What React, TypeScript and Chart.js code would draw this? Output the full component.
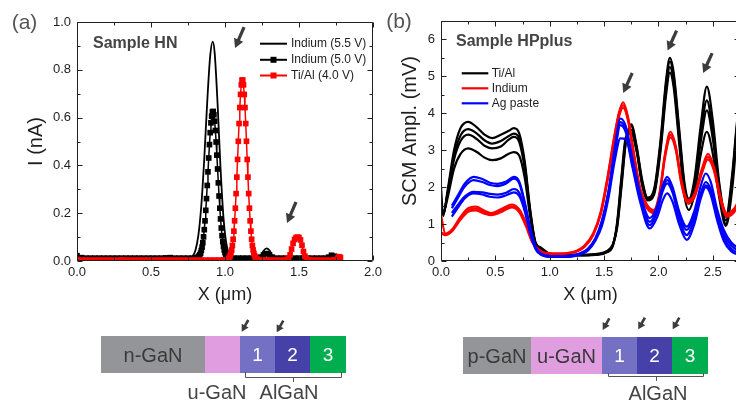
import React, { useEffect, useRef } from 'react';
import { Chart, registerables } from 'chart.js';

Chart.register(...registerables);

const FONT = '"Liberation Sans", Arial, Helvetica, sans-serif';
const INK = '#1e1e1e';
const NOTE = '#444444';
const ARROW = '#3c3c3c';

// ================= Panel (a): Sample HN =================
const hnTag = '(a)';
const hnTitle = 'Sample HN';
const hnXTitle = 'X (μm)';
const hnYTitle = 'I (nA)';
const hnSeriesLabels = ['Indium (5.5 V)', 'Indium (5.0 V)', 'Ti/Al (4.0 V)'];
const hnSeriesColors = ['#000000', '#000000', '#ff0000'];
const hnXTicks = [0, 0.5, 1.0, 1.5, 2.0];
const hnYTicks = [0, 0.2, 0.4, 0.6, 0.8, 1.0];

const hnIndium55 = [
  [0, 0.03], [0.01, 0.022], [0.03, 0.014], [0.06, 0.011], [0.15, 0.01], [0.3, 0.01], [0.45, 0.01],
  [0.55, 0.01], [0.6, 0.012], [0.63, 0.015], [0.66, 0.011], [0.72, 0.01], [0.75, 0.011], [0.78, 0.019],
  [0.8, 0.044], [0.82, 0.107], [0.84, 0.232], [0.86, 0.43], [0.88, 0.667], [0.9, 0.858], [0.917, 0.918],
  [0.93, 0.872], [0.95, 0.656], [0.97, 0.386], [0.99, 0.18], [1.01, 0.069], [1.03, 0.025], [1.05, 0.012],
  [1.08, 0.009], [1.15, 0.009], [1.22, 0.01], [1.24, 0.02], [1.26, 0.042], [1.28, 0.053], [1.3, 0.045],
  [1.32, 0.022], [1.34, 0.011], [1.4, 0.009], [1.55, 0.009], [1.68, 0.01], [1.7, 0.016], [1.72, 0.02],
  [1.74, 0.014], [1.75, 0.01],
];

const hnIndium50 = [
  [0, 0.022], [0.03, 0.014], [0.06, 0.012], [0.09, 0.012], [0.12, 0.012], [0.15, 0.012], [0.18, 0.012],
  [0.21, 0.012], [0.24, 0.012], [0.27, 0.012], [0.3, 0.012], [0.33, 0.012], [0.36, 0.012], [0.39, 0.012],
  [0.42, 0.012], [0.45, 0.012], [0.48, 0.012], [0.51, 0.012], [0.54, 0.012], [0.57, 0.012], [0.6, 0.013],
  [0.63, 0.014], [0.66, 0.012], [0.69, 0.012], [0.72, 0.012], [0.75, 0.012], [0.78, 0.012], [0.8, 0.013],
  [0.81, 0.014], [0.82, 0.018], [0.825, 0.021], [0.83, 0.026], [0.835, 0.033], [0.84, 0.044], [0.845, 0.058],
  [0.85, 0.076], [0.855, 0.101], [0.86, 0.131], [0.865, 0.168], [0.87, 0.212], [0.875, 0.261], [0.88, 0.316],
  [0.885, 0.373], [0.89, 0.431], [0.895, 0.487], [0.9, 0.537], [0.905, 0.578], [0.91, 0.606], [0.915, 0.624],
  [0.92, 0.626], [0.925, 0.612], [0.93, 0.585], [0.935, 0.546], [0.94, 0.498], [0.945, 0.443], [0.95, 0.385],
  [0.955, 0.327], [0.96, 0.272], [0.965, 0.221], [0.97, 0.176], [0.975, 0.138], [0.98, 0.106], [0.985, 0.081],
  [0.99, 0.061], [0.995, 0.046], [1.0, 0.035], [1.005, 0.027], [1.01, 0.022], [1.015, 0.018], [1.02, 0.016],
  [1.03, 0.013], [1.06, 0.012], [1.09, 0.012], [1.12, 0.012], [1.15, 0.012], [1.18, 0.012], [1.21, 0.012],
  [1.24, 0.016], [1.26, 0.025], [1.28, 0.031], [1.3, 0.026], [1.32, 0.016], [1.35, 0.012], [1.38, 0.012],
  [1.41, 0.012], [1.44, 0.012], [1.47, 0.012], [1.5, 0.012], [1.53, 0.012], [1.56, 0.012], [1.59, 0.012],
  [1.62, 0.012], [1.65, 0.012], [1.68, 0.012], [1.7, 0.016], [1.72, 0.024], [1.74, 0.02], [1.75, 0.014],
];

const hnTiAl40 = [
  [0, 0.006], [0.03, 0.004], [0.06, 0.004], [0.09, 0.004], [0.12, 0.004], [0.15, 0.004], [0.18, 0.004],
  [0.21, 0.004], [0.24, 0.004], [0.27, 0.004], [0.3, 0.005], [0.33, 0.004], [0.36, 0.004], [0.39, 0.004],
  [0.42, 0.004], [0.45, 0.004], [0.48, 0.004], [0.51, 0.004], [0.54, 0.004], [0.57, 0.004], [0.6, 0.004],
  [0.63, 0.004], [0.66, 0.004], [0.69, 0.004], [0.72, 0.004], [0.75, 0.004], [0.78, 0.004], [0.81, 0.004],
  [0.84, 0.004], [0.87, 0.004], [0.9, 0.004], [0.93, 0.004], [0.96, 0.004], [0.99, 0.005], [1.02, 0.008],
  [1.025, 0.011], [1.03, 0.016], [1.035, 0.022], [1.04, 0.032], [1.045, 0.046], [1.05, 0.065], [1.055, 0.091],
  [1.06, 0.125], [1.065, 0.168], [1.07, 0.221], [1.075, 0.282], [1.08, 0.351], [1.085, 0.425], [1.09, 0.501],
  [1.095, 0.575], [1.1, 0.642], [1.105, 0.697], [1.11, 0.737], [1.115, 0.757], [1.12, 0.757], [1.125, 0.737],
  [1.13, 0.697], [1.135, 0.642], [1.14, 0.575], [1.145, 0.501], [1.15, 0.425], [1.155, 0.351], [1.16, 0.282],
  [1.165, 0.221], [1.17, 0.168], [1.175, 0.125], [1.18, 0.091], [1.185, 0.065], [1.19, 0.046], [1.195, 0.032],
  [1.2, 0.022], [1.205, 0.016], [1.21, 0.011], [1.215, 0.008], [1.22, 0.006], [1.25, 0.004], [1.28, 0.004],
  [1.31, 0.004], [1.34, 0.004], [1.37, 0.004], [1.4, 0.004], [1.42, 0.006], [1.43, 0.012], [1.44, 0.026],
  [1.45, 0.05], [1.46, 0.074], [1.47, 0.09], [1.48, 0.098], [1.49, 0.1], [1.5, 0.098], [1.51, 0.088],
  [1.52, 0.066], [1.53, 0.04], [1.54, 0.02], [1.55, 0.009], [1.56, 0.005], [1.59, 0.004], [1.62, 0.004],
  [1.65, 0.004], [1.68, 0.004], [1.71, 0.004], [1.74, 0.005], [1.76, 0.012], [1.77, 0.018], [1.78, 0.015],
];

const hnArrowTips = [[1.068, 0.891], [1.419, 0.159]];

// ================= Panel (b): Sample HPplus =================
const hpTag = '(b)';
const hpTitle = 'Sample HPplus';
const hpXTitle = 'X (μm)';
const hpYTitle = 'SCM Ampl. (mV)';
const hpGroupLabels = ['Ti/Al', 'Indium', 'Ag paste'];
const hpGroupColors = ['#000000', '#ff0000', '#0000ff'];
const hpXTicks = [0, 0.5, 1.0, 1.5, 2.0, 2.5];
const hpXMax = 2.75;
const hpYTicks = [0, 1, 2, 3, 4, 5, 6];
const hpYMax = 6.5;

const hpTiAlX = [0, 0.02, 0.06, 0.12, 0.18, 0.25, 0.33, 0.4, 0.47, 0.55, 0.62, 0.67, 0.72, 0.77, 0.82, 0.87, 0.92, 1.0, 1.15, 1.3, 1.45, 1.52, 1.58, 1.62, 1.66, 1.7, 1.75, 1.8, 1.85, 1.9, 1.96, 2.02, 2.07, 2.105, 2.14, 2.19, 2.24, 2.28, 2.33, 2.39, 2.445, 2.5, 2.56, 2.62, 2.68, 2.72, 2.76];
const hpTiAl1 = [2.0, 1.22, 1.9, 3.0, 3.6, 3.77, 3.62, 3.42, 3.33, 3.42, 3.52, 3.6, 3.45, 2.7, 1.4, 0.5, 0.36, 0.2, 0.17, 0.17, 0.2, 0.26, 0.45, 0.9, 2.0, 3.2, 3.7, 3.1, 2.2, 1.72, 1.95, 3.3, 4.9, 5.5, 5.1, 3.6, 2.1, 1.68, 2.2, 3.7, 4.72, 3.8, 2.1, 1.2, 2.4, 3.7, 4.6];
const hpTiAl2 = [1.6, 1.25, 1.85, 2.85, 3.4, 3.57, 3.45, 3.27, 3.18, 3.25, 3.38, 3.45, 3.32, 2.6, 1.35, 0.48, 0.34, 0.19, 0.16, 0.16, 0.19, 0.25, 0.43, 0.95, 2.1, 3.25, 3.65, 3.05, 2.15, 1.7, 1.9, 3.2, 4.8, 5.4, 5.0, 3.5, 2.0, 1.62, 2.1, 3.45, 4.35, 3.5, 2.0, 1.1, 2.3, 3.6, 4.5];
const hpTiAl3 = [1.4, 1.28, 1.8, 2.75, 3.25, 3.42, 3.3, 3.12, 3.05, 3.1, 3.28, 3.36, 3.22, 2.5, 1.3, 0.46, 0.33, 0.18, 0.16, 0.16, 0.18, 0.24, 0.42, 1.0, 2.2, 3.3, 3.55, 3.0, 2.1, 1.68, 1.85, 3.1, 4.65, 5.25, 4.85, 3.35, 1.9, 1.55, 2.0, 3.25, 4.08, 3.3, 1.9, 1.0, 2.2, 3.5, 4.4];
const hpTiAl4 = [1.3, 1.3, 1.7, 2.5, 2.9, 3.05, 2.95, 2.8, 2.73, 2.78, 2.9, 2.95, 2.85, 2.25, 1.2, 0.44, 0.32, 0.17, 0.15, 0.15, 0.17, 0.23, 0.4, 1.05, 2.3, 3.35, 3.45, 2.95, 2.05, 1.64, 1.8, 3.0, 4.5, 5.1, 4.7, 3.2, 1.75, 1.38, 1.8, 2.9, 3.5, 2.9, 1.7, 0.95, 2.0, 3.3, 4.2];

const hpIndiumX = [0, 0.04, 0.1, 0.18, 0.25, 0.32, 0.4, 0.46, 0.55, 0.65, 0.72, 0.78, 0.84, 0.9, 0.96, 1.05, 1.15, 1.25, 1.32, 1.4, 1.47, 1.53, 1.59, 1.635, 1.675, 1.72, 1.77, 1.83, 1.89, 1.955, 2.01, 2.06, 2.11, 2.16, 2.21, 2.27, 2.33, 2.4, 2.455, 2.51, 2.57, 2.63, 2.69, 2.75];
const hpIndium1 = [1.25, 0.74, 0.85, 1.2, 1.43, 1.47, 1.36, 1.3, 1.4, 1.53, 1.4, 1.05, 0.55, 0.3, 0.22, 0.2, 0.21, 0.27, 0.4, 0.72, 1.3, 2.2, 3.3, 4.0, 4.3, 3.9, 3.0, 2.0, 1.55, 1.38, 1.85, 2.9, 3.5, 3.1, 2.2, 1.65, 1.8, 2.5, 2.9, 2.55, 1.75, 1.28, 1.4, 1.7];
const hpIndium2 = [0.78, 0.72, 0.82, 1.17, 1.38, 1.42, 1.32, 1.27, 1.36, 1.48, 1.36, 1.0, 0.52, 0.29, 0.21, 0.2, 0.21, 0.28, 0.42, 0.75, 1.35, 2.25, 3.3, 3.95, 4.22, 3.85, 2.95, 1.95, 1.5, 1.33, 1.8, 2.85, 3.42, 3.05, 2.15, 1.6, 1.75, 2.42, 2.82, 2.5, 1.7, 1.24, 1.35, 1.65];
const hpIndium3 = [0.75, 0.7, 0.8, 1.12, 1.33, 1.37, 1.28, 1.24, 1.32, 1.45, 1.32, 0.95, 0.5, 0.28, 0.21, 0.19, 0.2, 0.26, 0.38, 0.7, 1.28, 2.15, 3.2, 3.88, 4.15, 3.8, 2.9, 1.9, 1.45, 1.3, 1.75, 2.8, 3.35, 3.0, 2.1, 1.57, 1.72, 2.38, 2.75, 2.45, 1.65, 1.2, 1.3, 1.6];

const hpAgX = [0.1, 0.15, 0.22, 0.3, 0.38, 0.45, 0.52, 0.6, 0.67, 0.72, 0.77, 0.82, 0.87, 0.92, 0.98, 1.1, 1.2, 1.28, 1.35, 1.42, 1.48, 1.54, 1.6, 1.65, 1.7, 1.76, 1.83, 1.92, 1.99, 2.04, 2.08, 2.13, 2.19, 2.26, 2.33, 2.39, 2.435, 2.48, 2.54, 2.6, 2.67, 2.75];
const hpAg1 = [1.5, 1.75, 2.1, 2.28, 2.22, 2.12, 2.09, 2.15, 2.28, 2.15, 1.6, 0.9, 0.38, 0.2, 0.14, 0.13, 0.15, 0.21, 0.33, 0.62, 1.1, 1.9, 3.1, 3.86, 3.65, 2.8, 1.85, 1.16, 1.5, 2.05, 2.28, 2.0, 1.35, 0.93, 1.35, 2.05, 2.37, 2.15, 1.4, 0.85, 0.5, 0.32];
const hpAg2 = [1.43, 1.68, 2.02, 2.19, 2.14, 2.06, 2.03, 2.1, 2.23, 2.1, 1.55, 0.87, 0.36, 0.19, 0.13, 0.12, 0.14, 0.2, 0.31, 0.6, 1.05, 1.85, 3.0, 3.76, 3.55, 2.7, 1.78, 1.06, 1.42, 1.98, 2.19, 1.92, 1.25, 0.84, 1.25, 1.85, 2.14, 1.95, 1.3, 0.75, 0.42, 0.26];
const hpAg3 = [1.3, 1.5, 1.75, 1.87, 1.86, 1.82, 1.8, 1.85, 1.95, 1.85, 1.4, 0.8, 0.34, 0.18, 0.12, 0.11, 0.13, 0.19, 0.3, 0.58, 1.02, 1.8, 2.95, 3.68, 3.48, 2.62, 1.7, 0.97, 1.35, 1.9, 2.1, 1.85, 1.15, 0.7, 1.15, 1.8, 2.05, 1.88, 1.2, 0.65, 0.33, 0.2];
const hpAg4 = [1.2, 1.42, 1.7, 1.83, 1.8, 1.74, 1.72, 1.78, 1.86, 1.76, 1.35, 0.75, 0.32, 0.17, 0.12, 0.11, 0.12, 0.18, 0.28, 0.55, 0.95, 1.7, 2.75, 3.32, 3.3, 2.55, 1.62, 0.88, 1.2, 1.65, 1.83, 1.6, 1.0, 0.57, 1.0, 1.7, 2.0, 1.8, 1.1, 0.55, 0.26, 0.16];

const hpArrowTips = [[1.676, 4.55], [2.084, 5.7], [2.411, 5.09]];

// ================= Layer schematics =================
const hnStack = ['n-GaN', 'u-GaN', '1', '2', '3'];
const hpStack = ['p-GaN', 'u-GaN', '1', '2', '3'];
const stackColors = ['#939598', '#e09ddf', '#7471c4', '#4640a9', '#00ae50'];
const alloyLabel = 'AlGaN';

// ---------------- drawing helpers ----------------
function text(ctx, s, x, y, size, color, align = 'center', bold = false) {
  ctx.font = `${bold ? 'bold ' : ''}${size}px ${FONT}`;
  ctx.fillStyle = color;
  ctx.textAlign = align;
  ctx.textBaseline = 'middle';
  ctx.fillText(s, x, y);
}

function frame(chart, xMajor, xMinor, yMajor, yMinor) {
  const { ctx, chartArea: a } = chart;
  const sx = chart.scales.x;
  const sy = chart.scales.y;
  const L = Math.round(a.left) + 0.5;
  const R = Math.round(a.right) - 0.5;
  const T = Math.round(a.top) + 0.5;
  const B = Math.round(a.bottom) - 0.5;
  ctx.save();
  ctx.strokeStyle = '#202020';
  ctx.lineWidth = 1;
  ctx.beginPath();
  ctx.rect(L, T, R - L, B - T);
  const nx = Math.round((sx.max - sx.min) / xMinor);
  for (let i = 0; i <= nx; i++) {
    const v = sx.min + i * xMinor;
    const len = Math.abs(v / xMajor - Math.round(v / xMajor)) < 1e-6 ? 5 : 3;
    const p = Math.round(sx.getPixelForValue(v)) + 0.5;
    ctx.moveTo(p, B); ctx.lineTo(p, B - len);
    ctx.moveTo(p, T); ctx.lineTo(p, T + len);
  }
  const ny = Math.round((sy.max - sy.min) / yMinor);
  for (let i = 0; i <= ny; i++) {
    const v = sy.min + i * yMinor;
    const len = Math.abs(v / yMajor - Math.round(v / yMajor)) < 1e-6 ? 5 : 3;
    const p = Math.round(sy.getPixelForValue(v)) + 0.5;
    ctx.moveTo(L, p); ctx.lineTo(L + len, p);
    ctx.moveTo(R, p); ctx.lineTo(R - len, p);
  }
  ctx.stroke();
  ctx.restore();
}

function arrow(ctx, tx, ty, vx, vy, shaft, headL, headW) {
  const len = Math.hypot(vx, vy);
  const ux = -vx / len;
  const uy = -vy / len;
  const bx = tx - ux * headL;
  const by = ty - uy * headL;
  ctx.save();
  ctx.strokeStyle = ARROW;
  ctx.fillStyle = ARROW;
  ctx.lineWidth = shaft;
  ctx.beginPath();
  ctx.moveTo(tx + vx, ty + vy);
  ctx.lineTo(bx + ux, by + uy);
  ctx.stroke();
  const px = -uy;
  const py = ux;
  ctx.beginPath();
  ctx.moveTo(tx, ty);
  ctx.lineTo(bx + (px * headW) / 2, by + (py * headW) / 2);
  ctx.lineTo(bx - (px * headW) / 2, by - (py * headW) / 2);
  ctx.closePath();
  ctx.fill();
  ctx.restore();
}

function drawStack(ctx, ox, spec) {
  const { labels, edges, top, bottom, inside, below, belowY, bracket, tips } = spec;
  ctx.save();
  for (let i = 0; i < labels.length; i++) {
    ctx.fillStyle = stackColors[i];
    ctx.fillRect(edges[i] - ox, top, edges[i + 1] - edges[i], bottom - top);
  }
  const mid = (top + bottom) / 2 + 1.5;
  for (let i = 0; i < labels.length; i++) {
    if (!inside[i]) continue;
    const cx = (edges[i] + edges[i + 1]) / 2 - ox;
    const isNum = /^\d$/.test(labels[i]);
    text(ctx, labels[i], cx, mid, isNum ? 19 : 20, isNum ? '#ffffff' : '#3a3a3a');
  }
  below.forEach((b) => text(ctx, b.text, b.x - ox, belowY, 20, NOTE));
  // bracket under the AlGaN layers
  ctx.strokeStyle = '#555555';
  ctx.lineWidth = 1;
  ctx.beginPath();
  ctx.moveTo(bracket.x0 - ox + 0.5, bottom - 1);
  ctx.lineTo(bracket.x0 - ox + 0.5, bracket.y);
  ctx.lineTo(bracket.x1 - ox + 0.5, bracket.y);
  ctx.lineTo(bracket.x1 - ox + 0.5, bottom - 1);
  ctx.moveTo(bracket.xc - ox + 0.5, bracket.y);
  ctx.lineTo(bracket.xc - ox + 0.5, bracket.y + 4.5);
  ctx.stroke();
  tips.forEach(([x, y]) => arrow(ctx, x - ox, y, 6.6, -11.7, 2.6, 7, 8));
  ctx.restore();
}

function pts(xs, ys) {
  return xs.map((x, i) => ({ x, y: ys[i] }));
}

function pairs(arr) {
  return arr.map(([x, y]) => ({ x, y }));
}

function fixedTicks(values) {
  return (s) => {
    s.ticks = values.map((v) => ({ value: v }));
  };
}

// ---------------- chart configs ----------------
function configA() {
  const sets = [hnIndium55, hnIndium50, hnTiAl40];
  const datasets = sets.map((d, i) => ({
    label: hnSeriesLabels[i],
    data: pairs(d),
    borderColor: hnSeriesColors[i],
    backgroundColor: hnSeriesColors[i],
    borderWidth: i === 0 ? 1.8 : 1.5,
    pointStyle: 'rect',
    pointRadius: i === 0 ? 0 : 4,
    pointBorderWidth: 0,
    cubicInterpolationMode: i === 0 ? 'monotone' : 'default',
    tension: 0,
    order: 3 - i,
  }));

  const plugin = {
    id: 'panelA',
    afterDatasetsDraw(chart) {
      frame(chart, 0.5, 0.25, 0.2, 0.1);
    },
    afterDraw(chart) {
      const ctx = chart.ctx;
      const sx = chart.scales.x;
      const sy = chart.scales.y;
      ctx.save();
      text(ctx, hnTag, 24.5, 23, 21, '#555555');
      text(ctx, hnTitle, 93, 43.5, 16, NOTE, 'left', true);
      const rows = [43.7, 59.8, 75.5];
      chart.data.datasets.forEach((ds, i) => {
        const y = rows[i];
        ctx.strokeStyle = ds.borderColor;
        ctx.lineWidth = 2;
        ctx.beginPath();
        ctx.moveTo(260, y);
        ctx.lineTo(287, y);
        ctx.stroke();
        if (ds.pointRadius > 0) {
          ctx.fillStyle = ds.borderColor;
          ctx.fillRect(273.5 - 3, y - 3, 6, 6);
        }
        text(ctx, ds.label, 291, y, 12, INK, 'left');
      });
      hnArrowTips.forEach(([x, y]) =>
        arrow(ctx, sx.getPixelForValue(x), sy.getPixelForValue(y), 9, -21, 3.2, 9, 10)
      );
      drawStack(ctx, 0, {
        labels: hnStack,
        edges: [101, 205, 240, 275, 310, 346],
        top: 336,
        bottom: 373,
        inside: [true, false, true, true, true],
        below: [{ text: hnStack[1], x: 217 }, { text: alloyLabel, x: 289 }],
        belowY: 393.5,
        bracket: { x0: 245, x1: 341, xc: 293, y: 377.5 },
        tips: [[241.7, 331.7], [276.7, 332.3]],
      });
      ctx.restore();
    },
  };

  return {
    type: 'line',
    data: { datasets },
    options: {
      responsive: false,
      animation: false,
      events: [],
      layout: { padding: { left: 0, top: 22, right: 22, bottom: 98 } },
      plugins: { legend: { display: false }, tooltip: { enabled: false } },
      scales: {
        x: {
          type: 'linear',
          min: hnXTicks[0],
          max: hnXTicks[hnXTicks.length - 1],
          afterFit: (s) => { s.height = 45; },
          afterBuildTicks: fixedTicks(hnXTicks),
          grid: { display: false, drawTicks: false, tickLength: 0 },
          border: { display: false },
          ticks: {
            autoSkip: false,
            maxRotation: 0,
            padding: 4,
            color: INK,
            font: { size: 13 },
            callback: (v) => Number(v).toFixed(1),
          },
          title: { display: true, text: hnXTitle, color: INK, font: { size: 18 }, padding: { top: 0, bottom: 0 } },
        },
        y: {
          type: 'linear',
          min: hnYTicks[0],
          max: hnYTicks[hnYTicks.length - 1],
          afterFit: (s) => { s.width = 77; },
          afterBuildTicks: fixedTicks(hnYTicks),
          grid: { display: false, drawTicks: false, tickLength: 0 },
          border: { display: false },
          ticks: {
            autoSkip: false,
            padding: 6,
            color: INK,
            font: { size: 13 },
            callback: (v) => Number(v).toFixed(1),
          },
          title: { display: true, text: hnYTitle, color: INK, font: { size: 20 }, padding: { top: 24, bottom: 0 } },
        },
      },
    },
    plugins: [plugin],
  };
}

function configB(ox) {
  const groups = [
    { x: hpTiAlX, curves: [hpTiAl1, hpTiAl2, hpTiAl3, hpTiAl4] },
    { x: hpIndiumX, curves: [hpIndium1, hpIndium2, hpIndium3] },
    { x: hpAgX, curves: [hpAg1, hpAg2, hpAg3, hpAg4] },
  ];
  const datasets = [];
  groups.forEach((g, gi) => {
    g.curves.forEach((c) => {
      datasets.push({
        label: hpGroupLabels[gi],
        data: pts(g.x, c),
        borderColor: hpGroupColors[gi],
        backgroundColor: hpGroupColors[gi],
        borderWidth: 2.2,
        pointRadius: 0,
        cubicInterpolationMode: 'monotone',
        order: 3 - gi,
      });
    });
  });

  const plugin = {
    id: 'panelB',
    afterDatasetsDraw(chart) {
      frame(chart, 0.5, 0.25, 1, 0.5);
    },
    afterDraw(chart) {
      const ctx = chart.ctx;
      const sx = chart.scales.x;
      const sy = chart.scales.y;
      ctx.save();
      text(ctx, hpTag, 399 - ox, 22.5, 21, '#555555');
      text(ctx, hpTitle, 456 - ox, 42, 16, NOTE, 'left', true);
      ctx.save();
      ctx.translate(410.5 - ox, 131);
      ctx.rotate(-Math.PI / 2);
      text(ctx, hpYTitle, 0, 0, 20, INK);
      ctx.restore();
      const rows = [73.3, 88.3, 103.3];
      hpGroupLabels.forEach((lab, i) => {
        const y = rows[i];
        ctx.strokeStyle = hpGroupColors[i];
        ctx.lineWidth = 2.2;
        ctx.beginPath();
        ctx.moveTo(461.7 - ox, y);
        ctx.lineTo(488.3 - ox, y);
        ctx.stroke();
        text(ctx, lab, 491.7 - ox, y, 12, INK, 'left');
      });
      hpArrowTips.forEach(([x, y]) =>
        arrow(ctx, sx.getPixelForValue(x), sy.getPixelForValue(y), 9, -20, 3.2, 9, 10)
      );
      drawStack(ctx, ox, {
        labels: hpStack,
        edges: [463, 531, 602, 637, 672, 708],
        top: 337,
        bottom: 374,
        inside: [true, true, true, true, true],
        below: [{ text: alloyLabel, x: 658 }],
        belowY: 394,
        bracket: { x0: 608, x1: 703, xc: 656, y: 376.5 },
        tips: [[602.7, 330], [638.3, 329.3], [672.7, 329.3]],
      });
      ctx.restore();
    },
  };

  return {
    type: 'line',
    data: { datasets },
    options: {
      responsive: false,
      animation: false,
      events: [],
      layout: { padding: { left: 0, top: 21, right: 20, bottom: 98 } },
      plugins: { legend: { display: false }, tooltip: { enabled: false } },
      scales: {
        x: {
          type: 'linear',
          min: hpXTicks[0],
          max: hpXMax,
          afterFit: (s) => { s.height = 45; },
          afterBuildTicks: fixedTicks(hpXTicks),
          grid: { display: false, drawTicks: false, tickLength: 0 },
          border: { display: false },
          ticks: {
            autoSkip: false,
            maxRotation: 0,
            padding: 4,
            color: INK,
            font: { size: 13 },
            callback: (v) => Number(v).toFixed(1),
          },
          title: { display: true, text: hpXTitle, color: INK, font: { size: 18 }, padding: { top: 0, bottom: 0 } },
        },
        y: {
          type: 'linear',
          min: hpYTicks[0],
          max: hpYMax,
          afterFit: (s) => { s.width = 71; },
          afterBuildTicks: fixedTicks(hpYTicks),
          grid: { display: false, drawTicks: false, tickLength: 0 },
          border: { display: false },
          ticks: {
            autoSkip: false,
            padding: 6,
            color: INK,
            font: { size: 13 },
            callback: (v) => String(Number(v)),
          },
          title: { display: false },
        },
      },
    },
    plugins: [plugin],
  };
}

export default function App() {
  const refA = useRef(null);
  const refB = useRef(null);
  const OX = 370;

  useEffect(() => {
    Chart.defaults.font.family = FONT;
    Chart.defaults.color = INK;
    const a = new Chart(refA.current, configA());
    const b = new Chart(refB.current, configB(OX));
    return () => {
      a.destroy();
      b.destroy();
    };
  }, []);

  return (
    <div style={{ position: 'fixed', left: 0, top: 0, width: 736, height: 404, overflow: 'hidden', background: '#ffffff' }}>
      <canvas ref={refA} width={395} height={404} style={{ position: 'absolute', left: 0, top: 0, width: 395, height: 404 }} />
      <div style={{ position: 'absolute', left: OX, top: 0, width: 736 - OX, height: 404, overflow: 'hidden' }}>
        <canvas ref={refB} width={390} height={404} style={{ position: 'absolute', left: 0, top: 0, width: 390, height: 404 }} />
      </div>
    </div>
  );
}
